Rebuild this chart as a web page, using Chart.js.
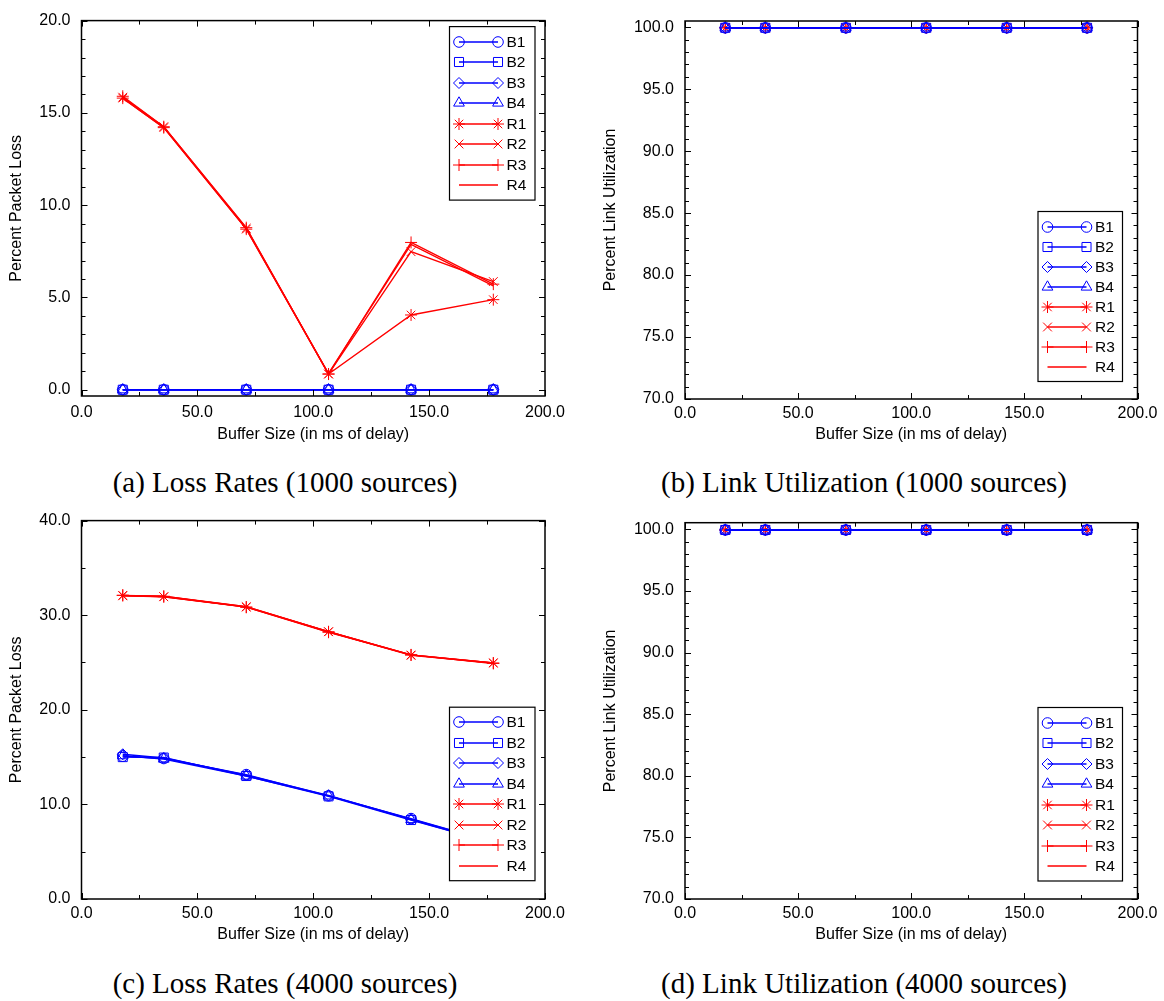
<!DOCTYPE html>
<html>
<head>
<meta charset="utf-8">
<script src="https://cdn.jsdelivr.net/npm/chart.js@4.4.1/dist/chart.umd.min.js"></script>
<style>
  body { margin: 0; background: #fff; }
  #page { position: relative; width: 1164px; height: 1001px; overflow: hidden; }
  canvas { position: absolute; }
  .cap { position: absolute; width: 582px; text-align: center; color: #000;
         font-family: "Liberation Serif", "Times New Roman", serif; font-size: 29px; line-height: 32px; }
</style>
</head>
<body>
<div id="page">
  <canvas id="chartA" width="582" height="450" style="left:0;top:0"></canvas>
  <canvas id="chartB" width="582" height="450" style="left:582px;top:0"></canvas>
  <canvas id="chartC" width="582" height="450" style="left:0;top:500px"></canvas>
  <canvas id="chartD" width="582" height="450" style="left:582px;top:500px"></canvas>
  <div class="cap" style="left:-6px;top:466px">(a) Loss Rates (1000 sources)</div>
  <div class="cap" style="left:573px;top:466px">(b) Link Utilization (1000 sources)</div>
  <div class="cap" style="left:-6px;top:967px">(c) Loss Rates (4000 sources)</div>
  <div class="cap" style="left:573px;top:967px">(d) Link Utilization (4000 sources)</div>
</div>
<script>
// buffer sizes (ms of delay) on the x axis
var bufferMs = [17.8, 35.5, 71.1, 106.6, 142.2, 177.7];
var seriesNames = ['B1', 'B2', 'B3', 'B4', 'R1', 'R2', 'R3', 'R4'];

// tick labels
var xTicks = [0, 50, 100, 150, 200];
var yTicksLoss1000 = [0, 5, 10, 15, 20];
var yTicksLoss4000 = [0, 10, 20, 30, 40];
var yTicksUtil = [70, 75, 80, 85, 90, 95, 100];

// (a) loss rate, 1000 sources
var lossA_B1 = [0.0, 0.0, 0.0, 0.0, 0.0, 0.0];
var lossA_B2 = [0.0, 0.0, 0.0, 0.0, 0.0, 0.0];
var lossA_B3 = [0.0, 0.0, 0.0, 0.0, 0.0, 0.0];
var lossA_B4 = [0.0, 0.0, 0.0, 0.0, 0.0, 0.0];
var lossA_R1 = [15.8, 14.2, 8.7, 0.85, 4.05, 4.88];
var lossA_R2 = [15.85, 14.25, 8.75, 0.85, 7.48, 5.86];
var lossA_R3 = [15.9, 14.25, 8.78, 0.85, 7.98, 5.72];
var lossA_R4 = [15.8, 14.2, 8.72, 0.88, 7.88, 5.63];

// (b) link utilization, 1000 sources
var utilB_B1 = [99.95, 99.95, 99.95, 99.95, 99.95, 99.95];
var utilB_B2 = [99.95, 99.95, 99.95, 99.95, 99.95, 99.95];
var utilB_B3 = [99.95, 99.95, 99.95, 99.95, 99.95, 99.95];
var utilB_B4 = [99.95, 99.95, 99.95, 99.95, 99.95, 99.95];
var utilB_R1 = [99.95, 99.95, 99.95, 99.95, 99.95, 99.95];
var utilB_R2 = [99.95, 99.95, 99.95, 99.95, 99.95, 99.95];
var utilB_R3 = [99.95, 99.95, 99.95, 99.95, 99.95, 99.95];
var utilB_R4 = [99.95, 99.95, 99.95, 99.95, 99.95, 99.95];

// (c) loss rate, 4000 sources
var lossC_B1 = [15.1, 14.85, 13.15, 10.9, 8.5, 6.0];
var lossC_B2 = [15.0, 14.95, 13.0, 10.85, 8.35, 5.95];
var lossC_B3 = [15.3, 14.9, 13.1, 10.95, 8.45, 6.0];
var lossC_B4 = [15.15, 14.8, 13.0, 10.9, 8.4, 5.9];
var lossC_R1 = [32.1, 31.95, 30.85, 28.25, 25.8, 24.95];
var lossC_R2 = [32.05, 31.95, 30.9, 28.25, 25.75, 24.95];
var lossC_R3 = [32.1, 32.0, 30.85, 28.2, 25.8, 24.9];
var lossC_R4 = [32.05, 32.0, 30.9, 28.25, 25.8, 24.95];

// (d) link utilization, 4000 sources
var utilD_B1 = [99.95, 99.95, 99.95, 99.95, 99.95, 99.95];
var utilD_B2 = [99.95, 99.95, 99.95, 99.95, 99.95, 99.95];
var utilD_B3 = [99.95, 99.95, 99.95, 99.95, 99.95, 99.95];
var utilD_B4 = [99.95, 99.95, 99.95, 99.95, 99.95, 99.95];
var utilD_R1 = [99.95, 99.95, 99.95, 99.95, 99.95, 99.95];
var utilD_R2 = [99.95, 99.95, 99.95, 99.95, 99.95, 99.95];
var utilD_R3 = [99.95, 99.95, 99.95, 99.95, 99.95, 99.95];
var utilD_R4 = [99.95, 99.95, 99.95, 99.95, 99.95, 99.95];

var seriesStyle = {
  B1: { color: '#0000ff', point: 'circle',   r: 5.3 },
  B2: { color: '#0000ff', point: 'rect',     r: 6.4 },
  B3: { color: '#0000ff', point: 'rectRot',  r: 5.5 },
  B4: { color: '#0000ff', point: 'triangle', r: 6.2 },
  R1: { color: '#ff0000', point: 'star',     r: 6 },
  R2: { color: '#ff0000', point: 'crossRot', r: 6.2 },
  R3: { color: '#ff0000', point: 'cross',    r: 6 },
  R4: { color: '#ff0000', point: false,      r: 0 }
};

var axisFont = '"Liberation Sans", Arial, sans-serif';
Chart.defaults.font.family = axisFont;
Chart.defaults.font.size = 16;
Chart.defaults.color = '#000';

// box frame with inward major / minor ticks on all four sides
var framePlugin = {
  id: 'frame',
  afterDatasetsDraw: function(chart, args, opts) {
    var ctx = chart.ctx, a = chart.chartArea, xs = chart.scales.x, ys = chart.scales.y;
    ctx.save();
    ctx.strokeStyle = '#000';
    ctx.lineWidth = 1;
    ctx.beginPath();
    var v, p, len;
    for (v = Math.ceil(xs.min / opts.xMinor) * opts.xMinor; v <= xs.max + 1e-9; v += opts.xMinor) {
      p = Math.round(xs.getPixelForValue(v)) + 0.5;
      len = Math.abs(v / opts.xMajor - Math.round(v / opts.xMajor)) < 1e-6 ? 6 : 4;
      ctx.moveTo(p, a.bottom); ctx.lineTo(p, a.bottom - len);
      ctx.moveTo(p, a.top); ctx.lineTo(p, a.top + len);
    }
    for (v = Math.ceil(ys.min / opts.yMinor - 1e-9) * opts.yMinor; v <= ys.max + 1e-9; v += opts.yMinor) {
      p = Math.round(ys.getPixelForValue(v)) + 0.5;
      len = Math.abs(v / opts.yMajor - Math.round(v / opts.yMajor)) < 1e-6 ? 6 : 4;
      ctx.moveTo(a.left, p); ctx.lineTo(a.left + len, p);
      ctx.moveTo(a.right, p); ctx.lineTo(a.right - len, p);
    }
    ctx.stroke();
    ctx.lineWidth = 1.5;
    ctx.strokeRect(a.left, a.top, a.right - a.left, a.bottom - a.top);
    ctx.restore();
  }
};

// outline marker for the legend samples
function legendMarker(ctx, style, x, y, r) {
  var i, ang, s;
  ctx.beginPath();
  if (style === 'circle') {
    ctx.arc(x, y, r, 0, Math.PI * 2);
  } else if (style === 'rect') {
    s = r * Math.SQRT1_2;
    ctx.rect(x - s, y - s, 2 * s, 2 * s);
  } else if (style === 'rectRot') {
    ctx.moveTo(x - r, y); ctx.lineTo(x, y - r); ctx.lineTo(x + r, y); ctx.lineTo(x, y + r); ctx.closePath();
  } else if (style === 'triangle') {
    for (i = 0; i < 3; i++) {
      ang = i * Math.PI * 2 / 3;
      if (i === 0) ctx.moveTo(x + Math.sin(ang) * r, y - Math.cos(ang) * r);
      else ctx.lineTo(x + Math.sin(ang) * r, y - Math.cos(ang) * r);
    }
    ctx.closePath();
  } else {
    var angles = style === 'cross' ? [0, 90] : style === 'crossRot' ? [45, 135] : [0, 45, 90, 135];
    angles.forEach(function(d) {
      var rad = d * Math.PI / 180;
      ctx.moveTo(x - Math.cos(rad) * r, y - Math.sin(rad) * r);
      ctx.lineTo(x + Math.cos(rad) * r, y + Math.sin(rad) * r);
    });
  }
  ctx.stroke();
}

// gnuplot-like legend box: line sample with a marker at each end
var boxLegend = {
  id: 'boxLegend',
  afterDraw: function(chart, args, opts) {
    var ctx = chart.ctx, a = chart.chartArea;
    var sets = chart.data.datasets;
    var w = opts.width, rowH = opts.rowH;
    var h = (sets.length - 1) * rowH + 30;
    var left = a.right - opts.right - w;
    var top = opts.top != null ? a.top + opts.top : a.bottom - opts.bottom - h;
    ctx.save();
    ctx.fillStyle = '#fff';
    ctx.fillRect(left, top, w, h);
    ctx.strokeStyle = '#000';
    ctx.lineWidth = 1.2;
    ctx.strokeRect(left, top, w, h);
    sets.forEach(function(ds, i) {
      var cy = Math.round(top + 15 + i * rowH);
      var x1 = left + 9.5, x2 = left + 48.5;
      if (ds.pointRadius > 0) {
        ctx.strokeStyle = ds.borderColor;
        ctx.lineWidth = 1;
        legendMarker(ctx, ds.pointStyle, x1, cy, ds.pointRadius);
        legendMarker(ctx, ds.pointStyle, x2, cy, ds.pointRadius);
      }
      ctx.strokeStyle = ds.borderColor;
      ctx.lineWidth = 1.5;
      ctx.beginPath();
      ctx.moveTo(x1, cy); ctx.lineTo(x2, cy);
      ctx.stroke();
      ctx.fillStyle = '#000';
      ctx.font = '15.5px ' + axisFont;
      ctx.textAlign = 'left';
      ctx.textBaseline = 'middle';
      ctx.fillText(ds.label, left + 57, cy + 1);
    });
    ctx.restore();
  }
};

function makeChart(id, cfg) {
  var datasets = seriesNames.map(function(name, i) {
    var st = seriesStyle[name];
    return {
      label: name,
      data: cfg.series[i].map(function(v, k) { return { x: bufferMs[k], y: v }; }),
      borderColor: st.color,
      borderWidth: 1.4,
      pointStyle: st.point,
      pointRadius: st.r,
      pointBorderColor: st.color,
      pointBackgroundColor: 'rgba(0,0,0,0)',
      pointBorderWidth: 1,
      tension: 0,
      fill: false
    };
  });
  return new Chart(document.getElementById(id), {
    type: 'line',
    data: { datasets: datasets },
    options: {
      responsive: false,
      animation: false,
      devicePixelRatio: 1,
      layout: { padding: { left: 0, top: cfg.padTop, right: cfg.padRight, bottom: 0 } },
      plugins: {
        legend: { display: false },
        tooltip: { enabled: false },
        frame: { xMinor: 25, xMajor: 50, yMinor: cfg.yMinor, yMajor: cfg.yMajor },
        boxLegend: cfg.legend
      },
      scales: {
        x: {
          type: 'linear', min: 0, max: 200,
          afterBuildTicks: function(s) { s.ticks = xTicks.map(function(v) { return { value: v }; }); },
          afterFit: function(s) { s.height = cfg.xH; },
          grid: { display: false, drawTicks: false },
          border: { display: false },
          ticks: { padding: cfg.xPad, maxRotation: 0, autoSkip: false,
                   callback: function(v) { return Number(v).toFixed(1); } },
          title: { display: true, text: 'Buffer Size (in ms of delay)', padding: { top: 0, bottom: cfg.xTitlePad } }
        },
        y: {
          type: 'linear', min: cfg.yMin, max: cfg.yMax,
          afterBuildTicks: function(s) { s.ticks = cfg.yTicks.map(function(v) { return { value: v }; }); },
          afterFit: function(s) { s.width = cfg.yW; },
          grid: { display: false, drawTicks: false },
          border: { display: false },
          ticks: { padding: cfg.yPad, autoSkip: false,
                   callback: function(v) { return Number(v).toFixed(1); } },
          title: { display: true, text: cfg.yTitle, padding: { top: cfg.yTitlePad, bottom: 0 } }
        }
      }
    },
    plugins: [framePlugin, boxLegend]
  });
}

makeChart('chartA', {
  series: [lossA_B1, lossA_B2, lossA_B3, lossA_B4, lossA_R1, lossA_R2, lossA_R3, lossA_R4],
  yMin: -0.34, yMax: 20, yTicks: yTicksLoss1000, yMinor: 1, yMajor: 5,
  yTitle: 'Percent Packet Loss',
  padTop: 12.5, padRight: 37, xH: 54, yW: 81.5, xPad: 7, yPad: 11, xTitlePad: 6, yTitlePad: 7,
  legend: { width: 85.5, rowH: 20.5, right: 10, top: 6 }
});

makeChart('chartB', {
  series: [utilB_B1, utilB_B2, utilB_B3, utilB_B4, utilB_R1, utilB_R2, utilB_R3, utilB_R4],
  yMin: 70, yMax: 100.5, yTicks: yTicksUtil, yMinor: 1, yMajor: 5,
  yTitle: 'Percent Link Utilization',
  padTop: 21, padRight: 26.5, xH: 51, yW: 103, xPad: 5, yPad: 11, xTitlePad: 6, yTitlePad: 19,
  legend: { width: 84.5, rowH: 20, right: 15, bottom: 17.5 }
});

makeChart('chartC', {
  series: [lossC_B1, lossC_B2, lossC_B3, lossC_B4, lossC_R1, lossC_R2, lossC_R3, lossC_R4],
  yMin: 0, yMax: 40, yTicks: yTicksLoss4000, yMinor: 5, yMajor: 10,
  yTitle: 'Percent Packet Loss',
  padTop: 12.3, padRight: 37, xH: 51, yW: 81.5, xPad: 5, yPad: 11, xTitlePad: 5.5, yTitlePad: 7,
  legend: { width: 85.5, rowH: 20.5, right: 10, bottom: 18.3 }
});

makeChart('chartD', {
  series: [utilD_B1, utilD_B2, utilD_B3, utilD_B4, utilD_R1, utilD_R2, utilD_R3, utilD_R4],
  yMin: 70, yMax: 100.54, yTicks: yTicksUtil, yMinor: 1, yMajor: 5,
  yTitle: 'Percent Link Utilization',
  padTop: 22.7, padRight: 26.5, xH: 51, yW: 103, xPad: 5, yPad: 11, xTitlePad: 5.5, yTitlePad: 19,
  legend: { width: 84.5, rowH: 20.5, right: 15, bottom: 18 }
});
</script>
</body>
</html>
